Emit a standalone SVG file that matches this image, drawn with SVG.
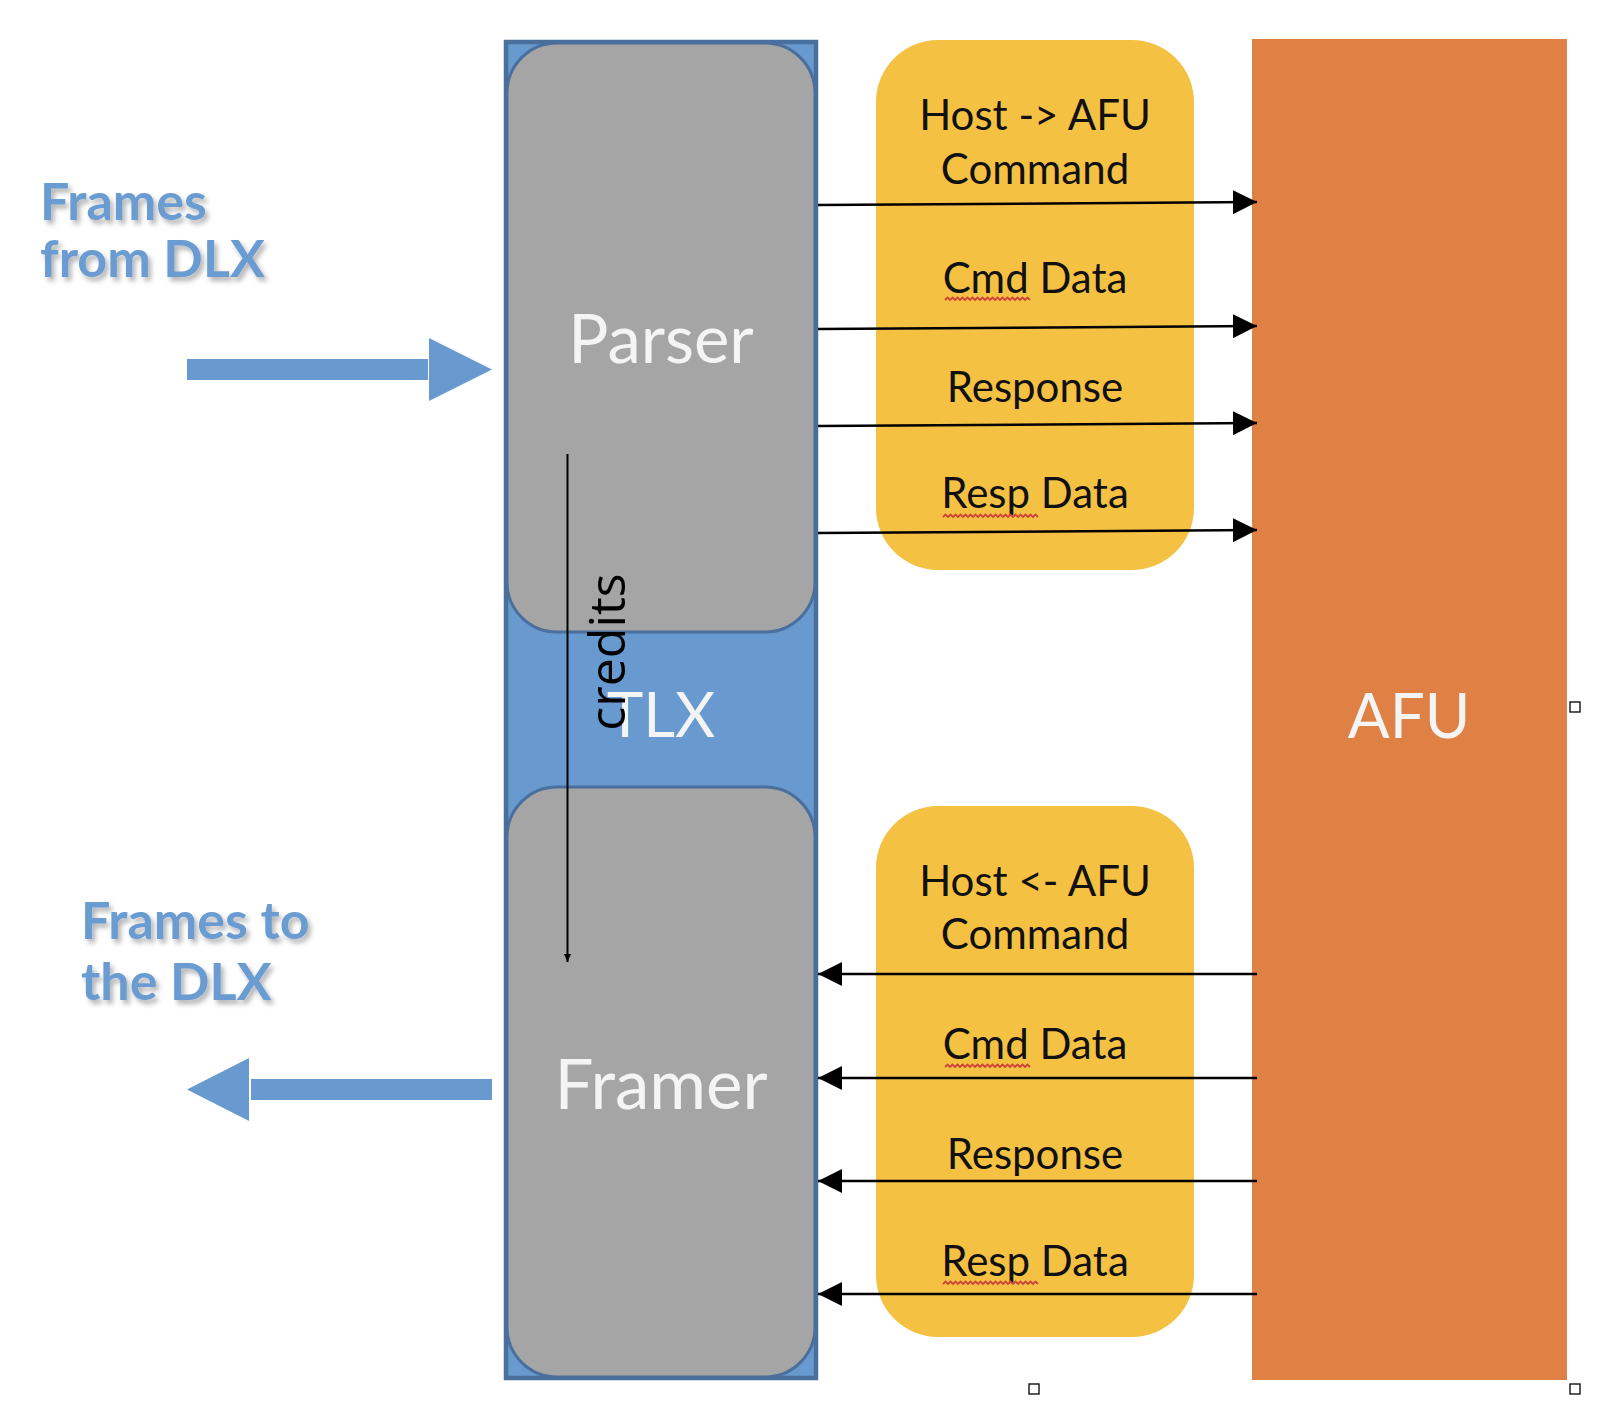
<svg xmlns="http://www.w3.org/2000/svg" width="1618" height="1424" viewBox="0 0 1618 1424">
<style>
.lbl{font-family:"Lato","Liberation Sans",sans-serif;font-size:42px;fill:#111;text-anchor:middle}
.big{font-family:"Lato","Liberation Sans",sans-serif;fill:#F4F4F4;text-anchor:middle}
.side{font-family:"Lato","Liberation Sans",sans-serif;font-weight:bold;font-size:52px;fill:#6A9BD1}
.wire{stroke:#000;stroke-width:2.5;fill:none}
.sq{stroke:#D0443A;stroke-width:1.8;fill:none}
.yel{fill:#F4C143}
.grey{fill:#A5A5A5;stroke:#4A6F9C;stroke-width:3}
.handle{fill:#fff;stroke:#000;stroke-width:1.3}
.barrow{fill:#6899CF}
</style>
<defs>
<marker id="ah" viewBox="0 0 24 24" refX="24" refY="12" markerWidth="24" markerHeight="24" markerUnits="userSpaceOnUse" orient="auto"><path d="M0,0 L24,12 L0,24 z" fill="#000"/></marker>
<marker id="ahs" viewBox="0 0 8 8" refX="8" refY="4" markerWidth="8" markerHeight="8" markerUnits="userSpaceOnUse" orient="auto"><path d="M0,0.5 L8,4 L0,7.5 z" fill="#000"/></marker>
<filter id="sh" x="-10%" y="-20%" width="130%" height="150%"><feDropShadow dx="3" dy="4" stdDeviation="2.5" flood-color="#000" flood-opacity="0.3"/></filter>
</defs>
<rect width="1618" height="1424" fill="#fff"/>

<g id="labels-left">
<text class="side" x="40" y="220" filter="url(#sh)">Frames</text>
<text class="side" x="40" y="277" filter="url(#sh)">from DLX</text>
<text class="side" x="81" y="939" filter="url(#sh)">Frames to</text>
<text class="side" x="81" y="1000" filter="url(#sh)">the DLX</text>
</g>

<g id="dlx-in">
<rect class="barrow" x="187" y="359" width="241" height="21"/>
<polygon class="barrow" points="429,338 492,369.5 429,401"/>
</g>
<g id="dlx-out">
<polygon class="barrow" points="187,1089.5 249,1058 249,1121"/>
<rect class="barrow" x="251" y="1079" width="241" height="21"/>
</g>

<g id="tlx">
<rect x="506" y="42" width="310" height="1336" fill="#6899CF" stroke="#4A6F9C" stroke-width="4.5"/>
<text class="big" x="661" y="737" font-size="62">TLX</text>
</g>
<g id="parser">
<rect class="grey" x="507" y="43" width="308" height="589" rx="50"/>
<text class="big" x="661" y="363" font-size="67">Parser</text>
</g>
<g id="framer">
<rect class="grey" x="507" y="787" width="308" height="590" rx="50"/>
<text class="big" x="661" y="1109" font-size="69">Framer</text>
</g>

<g id="host-to-afu">
<rect class="yel" x="876" y="40" width="318" height="530" rx="62"/>
<text class="lbl" x="1035" y="130" font-size="41">Host -&gt; AFU</text>
<text class="lbl" x="1035" y="184">Command</text>
<text class="lbl" x="1035" y="293">Cmd Data</text>
<text class="lbl" x="1035" y="402">Response</text>
<text class="lbl" x="1035" y="508">Resp Data</text>
<path class="sq" d="M945,300 l2.5,-2.5 l2.5,2.5 l2.5,-2.5 l2.5,2.5 l2.5,-2.5 l2.5,2.5 l2.5,-2.5 l2.5,2.5 l2.5,-2.5 l2.5,2.5 l2.5,-2.5 l2.5,2.5 l2.5,-2.5 l2.5,2.5 l2.5,-2.5 l2.5,2.5 l2.5,-2.5 l2.5,2.5 l2.5,-2.5 l2.5,2.5 l2.5,-2.5 l2.5,2.5 l2.5,-2.5 l2.5,2.5 l2.5,-2.5 l2.5,2.5 l2.5,-2.5 l2.5,2.5 l2.5,-2.5 l2.5,2.5 l2.5,-2.5 l2.5,2.5 l2.5,-2.5 l2.5,2.5"/>
<path class="sq" d="M943,517 l2.5,-2.5 l2.5,2.5 l2.5,-2.5 l2.5,2.5 l2.5,-2.5 l2.5,2.5 l2.5,-2.5 l2.5,2.5 l2.5,-2.5 l2.5,2.5 l2.5,-2.5 l2.5,2.5 l2.5,-2.5 l2.5,2.5 l2.5,-2.5 l2.5,2.5 l2.5,-2.5 l2.5,2.5 l2.5,-2.5 l2.5,2.5 l2.5,-2.5 l2.5,2.5 l2.5,-2.5 l2.5,2.5 l2.5,-2.5 l2.5,2.5 l2.5,-2.5 l2.5,2.5 l2.5,-2.5 l2.5,2.5 l2.5,-2.5 l2.5,2.5 l2.5,-2.5 l2.5,2.5 l2.5,-2.5 l2.5,2.5 l2.5,-2.5 l2.5,2.5"/>
</g>

<g id="afu-to-host">
<rect class="yel" x="876" y="806" width="318" height="531" rx="62"/>
<text class="lbl" x="1035" y="896" font-size="41">Host &lt;- AFU</text>
<text class="lbl" x="1035" y="949">Command</text>
<text class="lbl" x="1035" y="1059">Cmd Data</text>
<text class="lbl" x="1035" y="1169">Response</text>
<text class="lbl" x="1035" y="1276">Resp Data</text>
<path class="sq" d="M945,1067 l2.5,-2.5 l2.5,2.5 l2.5,-2.5 l2.5,2.5 l2.5,-2.5 l2.5,2.5 l2.5,-2.5 l2.5,2.5 l2.5,-2.5 l2.5,2.5 l2.5,-2.5 l2.5,2.5 l2.5,-2.5 l2.5,2.5 l2.5,-2.5 l2.5,2.5 l2.5,-2.5 l2.5,2.5 l2.5,-2.5 l2.5,2.5 l2.5,-2.5 l2.5,2.5 l2.5,-2.5 l2.5,2.5 l2.5,-2.5 l2.5,2.5 l2.5,-2.5 l2.5,2.5 l2.5,-2.5 l2.5,2.5 l2.5,-2.5 l2.5,2.5 l2.5,-2.5 l2.5,2.5"/>
<path class="sq" d="M943,1284 l2.5,-2.5 l2.5,2.5 l2.5,-2.5 l2.5,2.5 l2.5,-2.5 l2.5,2.5 l2.5,-2.5 l2.5,2.5 l2.5,-2.5 l2.5,2.5 l2.5,-2.5 l2.5,2.5 l2.5,-2.5 l2.5,2.5 l2.5,-2.5 l2.5,2.5 l2.5,-2.5 l2.5,2.5 l2.5,-2.5 l2.5,2.5 l2.5,-2.5 l2.5,2.5 l2.5,-2.5 l2.5,2.5 l2.5,-2.5 l2.5,2.5 l2.5,-2.5 l2.5,2.5 l2.5,-2.5 l2.5,2.5 l2.5,-2.5 l2.5,2.5 l2.5,-2.5 l2.5,2.5 l2.5,-2.5 l2.5,2.5 l2.5,-2.5 l2.5,2.5"/>
</g>

<g id="afu">
<rect x="1252" y="39" width="315" height="1341" fill="#DF8045"/>
<text class="big" x="1409" y="738" font-size="62">AFU</text>
</g>

<g id="connectors">
<line class="wire" x1="818" y1="205" x2="1257" y2="202" marker-end="url(#ah)"/>
<line class="wire" x1="818" y1="329" x2="1257" y2="326" marker-end="url(#ah)"/>
<line class="wire" x1="818" y1="426" x2="1257" y2="423" marker-end="url(#ah)"/>
<line class="wire" x1="818" y1="533" x2="1257" y2="530" marker-end="url(#ah)"/>
<line class="wire" x1="1257" y1="974" x2="818" y2="974" marker-end="url(#ah)"/>
<line class="wire" x1="1257" y1="1078" x2="818" y2="1078" marker-end="url(#ah)"/>
<line class="wire" x1="1257" y1="1181" x2="818" y2="1181" marker-end="url(#ah)"/>
<line class="wire" x1="1257" y1="1294" x2="818" y2="1294" marker-end="url(#ah)"/>
<line x1="567.5" y1="454" x2="567.5" y2="962" stroke="#000" stroke-width="2" marker-end="url(#ahs)"/>
<text x="625" y="652" transform="rotate(-90 625 652)" font-family="'Open Sans','DejaVu Sans',sans-serif" font-size="50" fill="#000" text-anchor="middle">credits</text>
</g>

<g id="handles">
<rect class="handle" x="1570" y="702" width="10" height="10"/>
<rect class="handle" x="1029" y="1384" width="10" height="10"/>
<rect class="handle" x="1570" y="1384" width="10" height="10"/>
</g>
</svg>
